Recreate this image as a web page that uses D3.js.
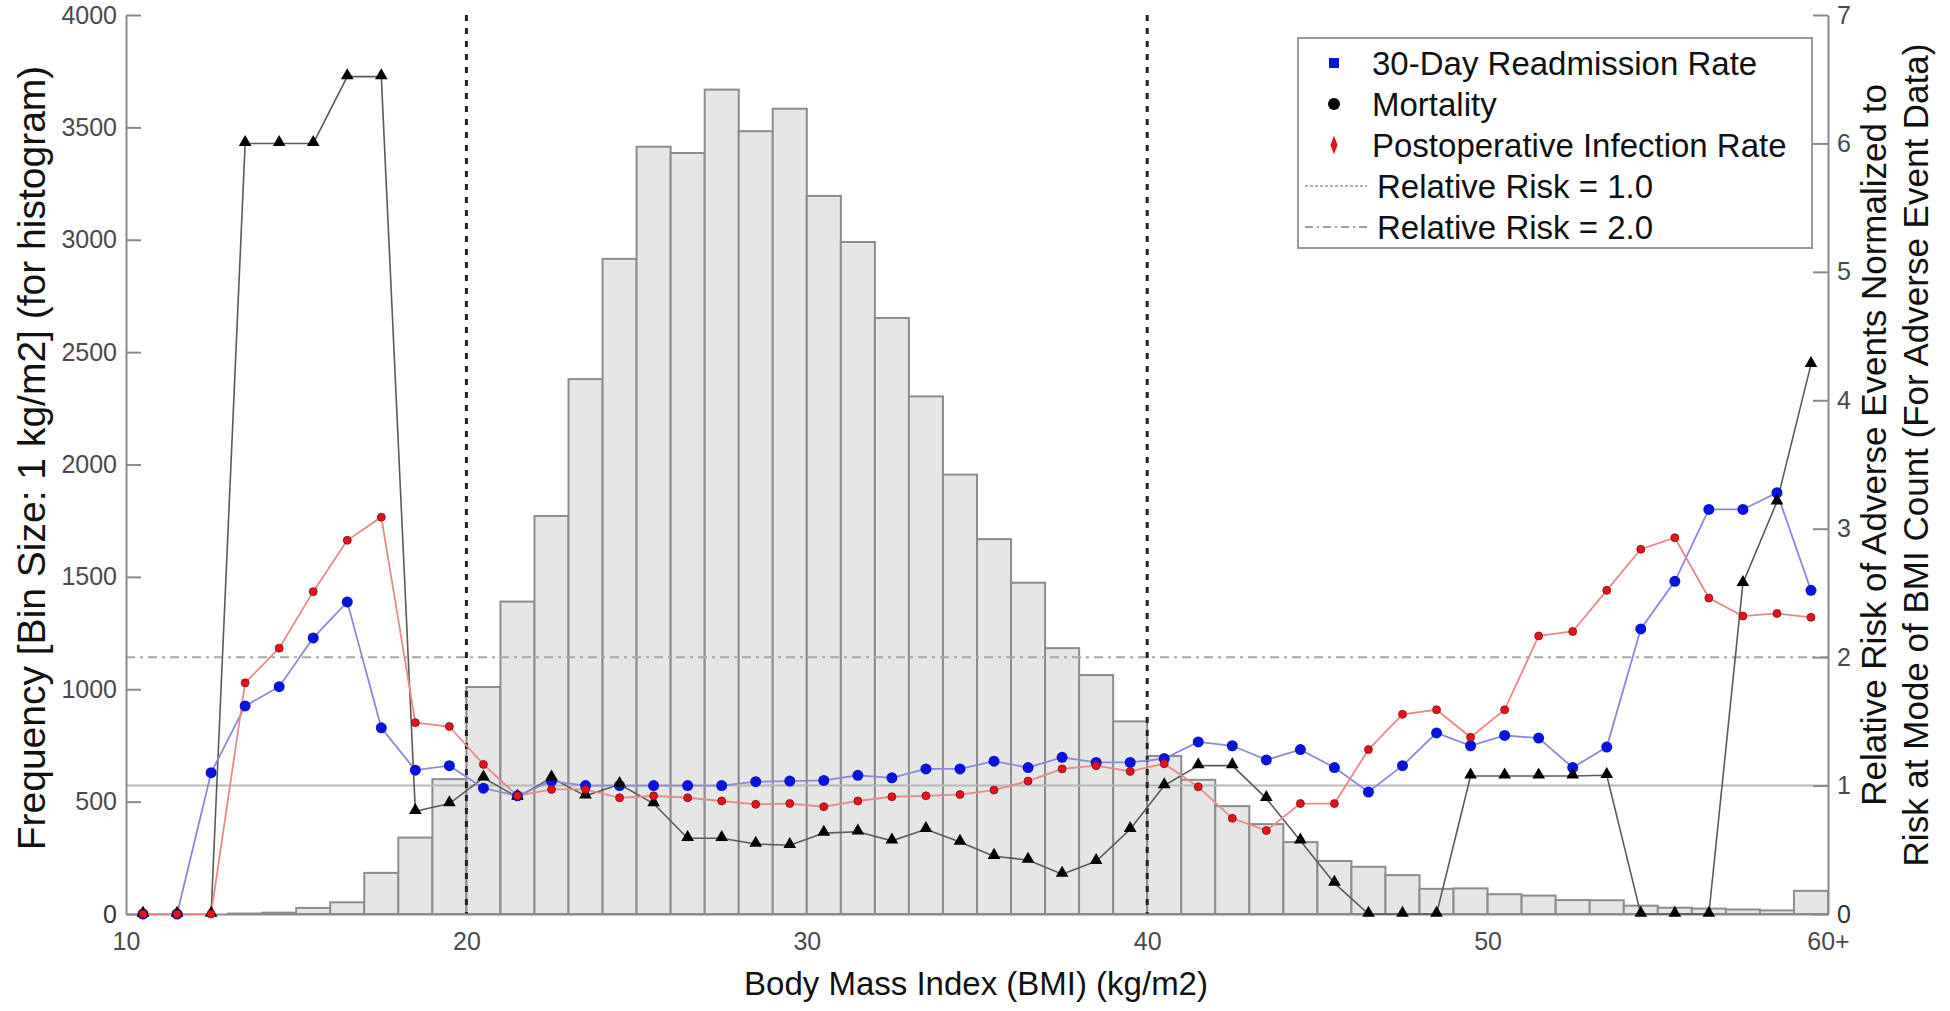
<!DOCTYPE html>
<html><head><meta charset="utf-8">
<script src="https://cdn.jsdelivr.net/npm/d3@7"></script>
<style>body{margin:0;background:#fff}svg{display:block;font-family:"Liberation Sans",Arial,Helvetica,sans-serif}</style>
</head><body><svg id="c" width="1950" height="1011"></svg>
<script>
// ---- data ----
const bmiBins = [10,11,12,13,14,15,16,17,18,19,20,21,22,23,24,25,26,27,28,29,30,31,32,33,34,35,36,37,38,39,40,41,42,43,44,45,46,47,48,49,50,51,52,53,54,55,56,57,58,59];
const histogramCounts = [0,0,0,2,6,27,52,183,340,600,1010,1390,1771,2380,2915,3414,3386,3668,3483,3583,3195,2990,2652,2303,1955,1668,1474,1183,1063,857,703,597,480,400,320,236,210,173,112,114,88,82,62,61,37,28,24,20,16,103];
const readmissionRR = [0,0,1.10,1.62,1.77,2.15,2.43,1.45,1.12,1.155,0.98,0.92,1.035,1.0,1.0,1.0,1.0,1.0,1.03,1.035,1.04,1.08,1.06,1.13,1.13,1.19,1.14,1.22,1.18,1.18,1.21,1.34,1.31,1.20,1.28,1.14,0.95,1.155,1.41,1.31,1.39,1.37,1.14,1.30,2.22,2.59,3.15,3.15,3.28,2.52];
const mortalityRR = [0,0,0,6.0,6.0,6.0,6.52,6.52,0.80,0.86,1.06,0.91,1.06,0.92,1.01,0.86,0.59,0.59,0.545,0.535,0.63,0.64,0.57,0.66,0.56,0.45,0.42,0.31,0.41,0.66,1.0,1.155,1.155,0.9,0.57,0.24,0,0,0,1.075,1.075,1.075,1.075,1.08,0,0,0,2.575,3.21,4.28];
const infectionRR = [0,0,0,1.80,2.07,2.51,2.91,3.09,1.49,1.46,1.165,0.92,0.97,0.97,0.905,0.92,0.905,0.88,0.854,0.86,0.835,0.88,0.913,0.92,0.93,0.965,1.035,1.13,1.155,1.11,1.17,0.99,0.745,0.65,0.86,0.86,1.28,1.555,1.59,1.376,1.59,2.165,2.2,2.52,2.84,2.93,2.46,2.32,2.34,2.31];
const xTickValues = [10,20,30,40,50,60];
const xTickLabels = ["10","20","30","40","50","60+"];
const leftTickValues = [0,500,1000,1500,2000,2500,3000,3500,4000];
const rightTickValues = [0,1,2,3,4,5,6,7];
const bmiThresholds = [20,40];
const riskLevels = [1,2];
const legendLabels = ["30-Day Readmission Rate","Mortality","Postoperative Infection Rate","Relative Risk = 1.0","Relative Risk = 2.0"];

// ---- chart ----
const svg = d3.select("#c");
svg.append("rect").attr("width",1950).attr("height",1011).attr("fill","#fff");
const L=126,R=1828,T=15,B=914;
const x = d3.scaleLinear().domain([10,60]).range([L,R]);
const yL = d3.scaleLinear().domain([0,4000]).range([B,T]);
const yR = d3.scaleLinear().domain([0,7]).range([B,T]);
const AX = "#8a8a8a";

// histogram
svg.append("g").selectAll("rect").data(bmiBins).join("rect")
  .attr("x", d=>x(d)).attr("width", d=>x(d+1)-x(d))
  .attr("y",(d,i)=>yL(histogramCounts[i])).attr("height",(d,i)=>yL(0)-yL(histogramCounts[i]))
  .attr("fill","#e6e6e6").attr("stroke","#8c8c8c").attr("stroke-width",2);

// risk reference lines
svg.append("line").attr("x1",L).attr("x2",R).attr("y1",yR(riskLevels[0])).attr("y2",yR(riskLevels[0]))
  .attr("stroke","#b8b8b8").attr("stroke-width",2);
svg.append("line").attr("x1",L).attr("x2",R).attr("y1",yR(riskLevels[1])).attr("y2",yR(riskLevels[1]))
  .attr("stroke","#a8a8a8").attr("stroke-width",2).attr("stroke-dasharray","9,5,3,5");

// threshold verticals
svg.append("g").selectAll("line").data(bmiThresholds).join("line")
  .attr("x1",d=>x(d)).attr("x2",d=>x(d)).attr("y1",T).attr("y2",B)
  .attr("stroke","#222").attr("stroke-width",3).attr("stroke-dasharray","6,7");

// axes
const fmt = d3.format("d");
const gl = svg.append("g").attr("transform",`translate(${L},0)`)
  .call(d3.axisLeft(yL).tickValues(leftTickValues).tickFormat(fmt).tickSizeInner(-15).tickSizeOuter(0).tickPadding(9));
const gr = svg.append("g").attr("transform",`translate(${R},0)`)
  .call(d3.axisRight(yR).tickValues(rightTickValues).tickFormat(fmt).tickSizeInner(-15).tickSizeOuter(0).tickPadding(9));
const gb = svg.append("g").attr("transform",`translate(0,${B})`)
  .call(d3.axisBottom(x).tickValues(xTickValues).tickFormat((d,i)=>xTickLabels[i]).tickSize(0).tickPadding(18));
[gl,gr,gb].forEach(g=>{
  g.select(".domain").attr("stroke",AX).attr("stroke-width",2);
  g.selectAll(".tick line").attr("stroke",AX).attr("stroke-width",2);
  g.selectAll(".tick text").attr("fill","#4a4a4a").attr("font-size",25).attr("font-family",'"Liberation Sans",Arial,sans-serif');
});
gl.selectAll(".tick text").filter(d=>d===0).attr("fill","#333");
gr.selectAll(".tick text").filter(d=>d===0).attr("fill","#333");

// series
const cx = (d,i)=>x(bmiBins[i]+0.5);
function line(vals){ return d3.line().x((d,i)=>x(bmiBins[i]+0.5)).y(d=>yR(d))(vals); }
svg.append("path").attr("d",line(mortalityRR)).attr("fill","none").attr("stroke","#5a5a5a").attr("stroke-width",1.6);
svg.append("path").attr("d",line(readmissionRR)).attr("fill","none").attr("stroke","#8a8ad8").attr("stroke-width",1.8);
svg.append("path").attr("d",line(infectionRR)).attr("fill","none").attr("stroke","#e88a8a").attr("stroke-width",1.8);

svg.append("g").selectAll("circle").data(readmissionRR).join("circle")
  .attr("cx",cx).attr("cy",d=>yR(d)).attr("r",5.5).attr("fill","#0a14d8");
const tri = d3.symbol().type(d3.symbolTriangle).size(70);
svg.append("g").selectAll("path").data(mortalityRR).join("path")
  .attr("d",tri).attr("transform",(d,i)=>`translate(${cx(d,i)},${yR(d)-1})`).attr("fill","#000");
svg.append("g").selectAll("circle").data(infectionRR).join("circle")
  .attr("cx",cx).attr("cy",d=>yR(d)).attr("r",4).attr("fill","#e0141c").attr("stroke","#8a1018").attr("stroke-width",0.8);

// axis titles
svg.append("text").attr("transform","translate(31,458) rotate(-90)").attr("text-anchor","middle")
  .attr("dominant-baseline","central").attr("font-size",39).attr("fill","#111")
  .text("Frequency [Bin Size: 1 kg/m2] (for histogram)");
svg.append("text").attr("transform","translate(1873,445) rotate(-90)").attr("text-anchor","middle")
  .attr("dominant-baseline","central").attr("font-size",35).attr("fill","#111")
  .text("Relative Risk of Adverse Events Normalized to");
svg.append("text").attr("transform","translate(1915,455) rotate(-90)").attr("text-anchor","middle")
  .attr("dominant-baseline","central").attr("font-size",35).attr("fill","#111")
  .text("Risk at Mode of BMI Count (For Adverse Event Data)");
svg.append("text").attr("x",976).attr("y",983).attr("text-anchor","middle")
  .attr("dominant-baseline","central").attr("font-size",33).attr("fill","#111")
  .text("Body Mass Index (BMI) (kg/m2)");

// legend
const lg = svg.append("g");
lg.append("rect").attr("x",1298).attr("y",38).attr("width",514).attr("height",210)
  .attr("fill","#fff").attr("stroke","#999").attr("stroke-width",2);
const rowY = [63,104,145,186,227];
lg.append("rect").attr("x",1329).attr("y",rowY[0]-5).attr("width",10).attr("height",10).attr("fill","#0a14d8");
lg.append("circle").attr("cx",1334).attr("cy",rowY[1]).attr("r",6).attr("fill","#000");
lg.append("path").attr("d",d3.symbol().type(d3.symbolDiamond).size(70)).attr("transform",`translate(1334,${rowY[2]}) scale(0.8,1.2)`).attr("fill","#e0141c");
lg.append("line").attr("x1",1305).attr("x2",1367).attr("y1",rowY[3]).attr("y2",rowY[3]).attr("stroke","#b0b0b0").attr("stroke-width",2).attr("stroke-dasharray","3,2");
lg.append("line").attr("x1",1305).attr("x2",1367).attr("y1",rowY[4]).attr("y2",rowY[4]).attr("stroke","#a0a0a0").attr("stroke-width",2).attr("stroke-dasharray","8,4,2,4");
lg.selectAll("text").data(legendLabels).join("text")
  .attr("x",(d,i)=>i<3?1372:1377).attr("y",(d,i)=>rowY[i]).attr("dominant-baseline","central")
  .attr("font-size",33).attr("fill","#111").text(d=>d);
</script></body></html>
